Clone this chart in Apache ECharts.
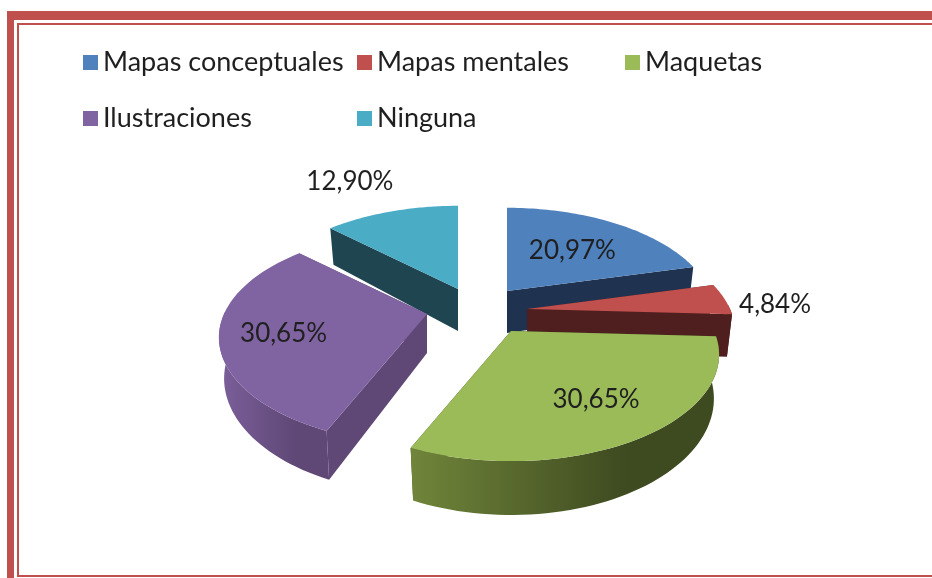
<!DOCTYPE html>
<html>
<head>
<meta charset="utf-8">
<style>
html, body { margin: 0; padding: 0; background: #fff; }
#chart { width: 932px; height: 578px; }
</style>
<script src="https://cdn.jsdelivr.net/npm/echarts@6/dist/echarts.min.js"></script>
</head>
<body>
<div id="chart"></div>
<script>
// datos
const categories = ["Mapas conceptuales", "Mapas mentales", "Maquetas", "Ilustraciones", "Ninguna"];
const percentages = [20.97, 4.84, 30.65, 30.65, 12.90];

// estilo de cada porcion
const topColors = ["#4f81bd", "#c0504d", "#9bbb59", "#8064a2", "#4bacc6"];
const wallLeft = ["#1f3350", "#4f1f1f", "#70853a", "#7b5f9a", "#1f4650"];
const wallRight = ["#1f3350", "#4f1f1f", "#3e4a20", "#5f4876", "#1f4650"];
const radialColors = ["#1f3350", "#4f1f1f", "#3e4a20", "#5f4876", "#1f4650"];
const explode = [[27, -19], [47, -1], [31, 21], [-53, 4], [-22, -21]];
const depths = [42, 42, 42, 39, 42];
const labelRadius = [0.55, 1.2, 0.69, 0.68, 1.5];
const labelShift = [[3, 0], [12, 8], [0, 0], [-4, 5], [-16, 0]];
const legendPos = [[78, 44], [352, 44], [620, 44], [78, 100], [352, 100]];
const drawOrder = [4, 0, 1, 3, 2];

// proyeccion en perspectiva del pastel
const center = [480, 310];
const radius = 203;
const tilt = 0.5;
const persp = 0.22;

const total = percentages.reduce((a, b) => a + b, 0);

function project(idx, r, ang, down) {
    let v = r * Math.cos(ang);
    let s = 1 / (1 + persp * v);
    let shrink = down ? 0.975 : 1;
    return [
        center[0] + explode[idx][0] + radius * r * Math.sin(ang) * s * shrink,
        center[1] + explode[idx][1] - radius * tilt * v * s + (down ? depths[idx] * s : 0)
    ];
}

function renderSlice(idx, api) {
    let before = 0;
    for (let i = 0; i < idx; i++) before += percentages[i];
    let a0 = before / total * Math.PI * 2;
    let a1 = (before + api.value(0)) / total * Math.PI * 2;

    let topArc = [];
    let lowArc = [];
    let wallTop = [];
    let wallLow = [];
    let steps = 60;
    for (let i = 0; i <= steps; i++) {
        let a = a0 + (a1 - a0) * i / steps;
        let t = project(idx, 1, a, false);
        let l = project(idx, 1, a, true);
        topArc.push(t);
        lowArc.push(l);
        // solo la parte del borde que mira hacia el frente
        if (Math.cos(a) < 0.05) {
            wallTop.push(t);
            wallLow.push(l);
        }
    }
    let apex = project(idx, 0, 0, false);
    let apexLow = project(idx, 0, 0, true);
    let mid = (a0 + a1) / 2;
    let lab = project(idx, labelRadius[idx], mid, false);

    let wall = wallTop.concat(wallLow.reverse());
    let radial0 = [apex, topArc[0], lowArc[0], apexLow];
    let radial1 = [apex, topArc[steps], lowArc[steps], apexLow];

    let children = [
        { type: "polygon", shape: { points: radial0 }, style: { fill: radialColors[idx] } },
        { type: "polygon", shape: { points: radial1 }, style: { fill: radialColors[idx] } }
    ];
    if (wall.length > 2) {
        children.push({
            type: "polygon",
            shape: { points: wall },
            style: {
                fill: new echarts.graphic.LinearGradient(0, 0, 1, 0, [
                    { offset: 0, color: wallLeft[idx] },
                    { offset: 0.7, color: wallRight[idx] },
                    { offset: 1, color: wallRight[idx] }
                ])
            }
        });
    }
    children.push({
        type: "polygon",
        shape: { points: [apex].concat(topArc) },
        style: { fill: topColors[idx] }
    });
    children.push({
        type: "text",
        z2: 100,
        style: {
            x: lab[0] + labelShift[idx][0],
            y: lab[1] + labelShift[idx][1],
            text: percentages[idx].toFixed(2).replace(".", ",") + "%",
            align: "center",
            verticalAlign: "middle",
            fill: "#1f1f1f",
            font: "26px Lato"
        }
    });
    return { type: "group", children: children };
}

const borderColor = "#c0504d";
const bars = [
    [7, 11, 925, 9], [7, 11, 7, 567],
    [17, 23, 915, 2], [17, 23, 2, 554],
    [17, 575, 915, 2]
];

let myChart = echarts.init(document.getElementById("chart"));
myChart.setOption({
    backgroundColor: "#fff",
    animation: false,
    legend: categories.map((name, i) => ({
        data: [name],
        left: legendPos[i][0],
        top: legendPos[i][1],
        icon: "rect",
        itemWidth: 15,
        itemHeight: 15,
        selectedMode: false,
        textStyle: { fontFamily: "Lato", fontSize: 27, color: "#1f1f1f" }
    })),
    graphic: bars.map(b => ({
        type: "rect",
        shape: { x: b[0], y: b[1], width: b[2], height: b[3] },
        style: { fill: borderColor },
        silent: true
    })),
    series: drawOrder.map(idx => ({
        type: "custom",
        name: categories[idx],
        coordinateSystem: "none",
        silent: true,
        itemStyle: { color: topColors[idx] },
        data: [percentages[idx]],
        renderItem: (params, api) => renderSlice(idx, api)
    }))
});
</script>
</body>
</html>
